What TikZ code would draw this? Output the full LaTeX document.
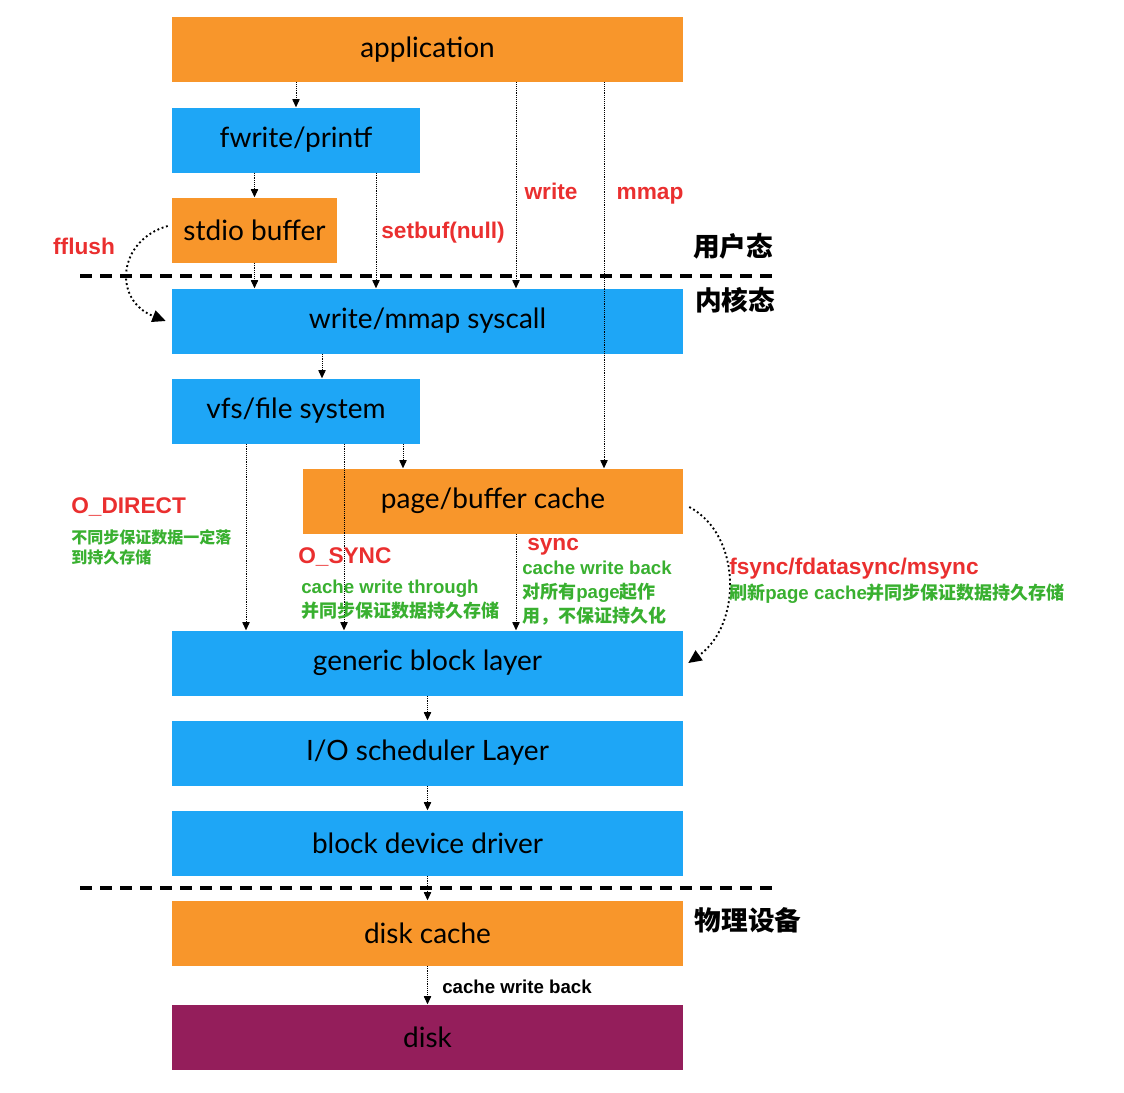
\documentclass[tikz,border=0pt]{standalone}
\usepackage{fontspec}
\setmainfont{Lato}
\newfontfamily\lsans{Liberation Sans}
\newfontfamily\cjk{Noto Sans CJK SC}
\usepackage{tikz}
\usetikzlibrary{arrows.meta,positioning,calc}
\usepackage{xcolor}
\definecolor{boxorange}{HTML}{F8962B}
\definecolor{boxblue}{HTML}{1EA6F6}
\definecolor{diskred}{HTML}{941E5B}
\definecolor{callred}{HTML}{EA2F2F}
\definecolor{notegreen}{HTML}{39B030}
\newcommand{\lat}[1]{{\lsans\bfseries\fontsize{14}{18}\selectfont #1}}

\begin{document}
\begin{tikzpicture}[x=0.75pt, y=-0.75pt, >=Stealth,
  layer/.style={minimum height=48.75pt, inner sep=0pt, font=\fontsize{21}{24}\selectfont},
  obox/.style={layer, fill=boxorange},
  bbox/.style={layer, fill=boxblue},
  flow/.style={-{Triangle[length=6pt,width=5.5pt]}, densely dotted, thin},
  curvearrow/.style={-{Triangle[length=10pt,width=9pt]}, line width=1.4pt, dotted},
  sep/.style={line width=3pt, dash pattern=on 9pt off 6pt},
  call/.style={text=callred, anchor=base, inner sep=0pt, font=\lsans\bfseries\fontsize{17}{20}\selectfont},
  note/.style={text=notegreen, align=left, inner sep=0pt, font=\cjk\bfseries\fontsize{13.5}{18}\selectfont},
  zone/.style={font=\cjk\bfseries\fontsize{20}{24}\selectfont}]
  \useasboundingbox (0,0) rectangle (1124,1092);

  % user space
  \node[obox, minimum width=383.25pt] (app) at (427.5,49.5) {application};
  \node[bbox, minimum width=186pt] (fw) at (296,140) {fwrite/printf};
  \node[obox, minimum width=123.75pt] (stdio) at (254.5,230) {stdio buffer};

  % kernel
  \node[bbox, minimum width=383.25pt] (sys) at (427.5,321) {write/mmap syscall};
  \node[bbox, minimum width=186pt] (vfs) at (296,411) {vfs/file system};
  \node[obox, minimum width=285pt] (page) at (493,501) {page/buffer cache};
  \node[bbox, minimum width=383.25pt] (gbl) at (427.5,663) {generic block layer};
  \node[bbox, minimum width=383.25pt] (ios) at (427.5,753) {I/O scheduler Layer};
  \node[bbox, minimum width=383.25pt] (drv) at (427.5,843) {block device driver};

  % device
  \node[obox, minimum width=383.25pt] (dc) at (427.5,933) {disk cache};
  \node[layer, fill=diskred, minimum width=383.25pt] (disk) at (427.5,1037) {disk};

  \draw[sep] (80,276) -- (776,276);
  \draw[sep] (80,888) -- (776,888);
  \node[zone] (usr) at (733,246) {用户态};
  \node[zone] (krn) at (735,300) {内核态};
  \node[zone] (dev) at (748,920) {物理设备};

  % connectors
  \draw[flow] (app.south -| fw.north) -- (fw.north);
  \draw[flow] (fw.south -| stdio.north) -- (stdio.north);
  \draw[flow] (stdio.south) -- (sys.north -| stdio.south);
  \draw[flow] (fw.south -| 376,0) -- (sys.north -| 376,0);
  \draw[flow] (app.south -| 516,0) -- (sys.north -| 516,0);
  \draw[flow] (app.south -| 604,0) -- (page.north -| 604,0);
  \draw[flow] (sys.south -| 322,0) -- (vfs.north -| 322,0);
  \draw[flow] (vfs.south -| 403,0) -- (page.north -| 403,0);
  \draw[flow] (vfs.south -| 246,0) -- (gbl.north -| 246,0);
  \draw[flow] (vfs.south -| 344,0) -- (gbl.north -| 344,0);
  \draw[flow] (page.south -| 516,0) -- (gbl.north -| 516,0);
  \draw[flow] (gbl.south) -- (ios.north);
  \draw[flow] (ios.south) -- (drv.north);
  \draw[flow] (drv.south) -- (dc.north);
  \draw[flow] (dc.south) -- (disk.north);
  \draw[curvearrow] ($(stdio.west)+(-4,-4)$) .. controls (118,240) and (112,300) .. ($(sys.west)+(-6,0)$);
  \draw[curvearrow] ($(page.east)+(6,6)$) .. controls (742,535) and (742,625) .. ($(gbl.east)+(5,0)$);

  % labels
  \node[call] (lwrite) at (551,199) {write};
  \node[call] (lmmap) at (650,199) {mmap};
  \node[call] (lsetbuf) at (443,238) {setbuf(null)};
  \node[call] (lflush) at (84,254) {fflush};
  \node[call, anchor=base west] (ldirect) at (71,513) {O\_DIRECT};
  \node[note, anchor=north west, font=\cjk\bfseries\fontsize{12}{15.5}\selectfont] (ndirect) at (71,529) {不同步保证数据一定落\\到持久存储};
  \node[call, anchor=base west] (losync) at (298,563) {O\_SYNC};
  \node[note, anchor=north west] (nosync) at (301,580) {\lat{cache write through}\\并同步保证数据持久存储};
  \node[call, anchor=base west] (lsync) at (527,550) {sync};
  \node[note, anchor=north west] (nsync) at (522,561) {\lat{cache write back}\\对所有\lat{page}起作\\用，不保证持久化};
  \node[call, anchor=base west] (lfsync) at (729,574) {fsync/fdatasync/msync};
  \node[note, anchor=west] (nfsync) at (729,594) {刷新\lat{page cache}并同步保证数据持久存储};
  \node[anchor=west, inner sep=0pt] (lwb) at (442,987) {\lat{cache write back}};
\end{tikzpicture}
\end{document}
